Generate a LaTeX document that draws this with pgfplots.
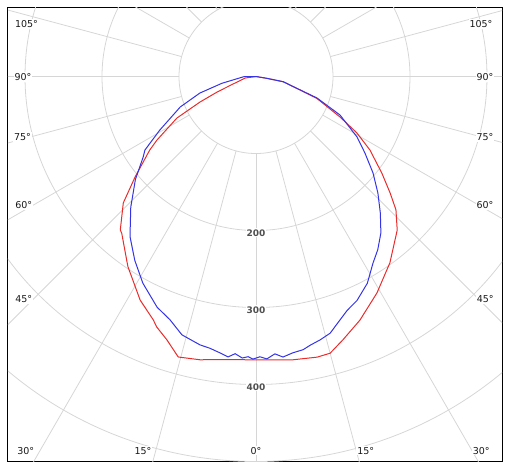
\documentclass[border=0pt]{standalone}
\usepackage{pgfplots}
\pgfplotsset{compat=1.18}
\usepackage{pgfplotstable}
\usepackage{fontspec}
\setmainfont{DejaVu Sans}

\definecolor{gridgray}{RGB}{214,214,214}
\definecolor{curvered}{RGB}{232,44,44}
\definecolor{curveblue}{RGB}{52,52,230}
\definecolor{labeldark}{RGB}{25,25,25}
\definecolor{labelgray}{RGB}{80,80,80}

% g = gamma angle in degrees (left half negative), I = intensity
\pgfplotstableread{
g I
-90 0
-82 14
-72 31
-68.3 54
-65.5 80
-62.3 116
-57.3 153
-55.3 168
-50.3 204
-46.4 238
-41.5 266
-40.6 268
-34.7 294
-33.9 298
-27.4 327
-22.9 343
-21.6 350
-18.7 361
-15.5 378
-11.2 375
-5 369
0 368
7.4 371
12.3 373
15 372
18.3 360
23.1 344
29.2 322
35.7 298
42.6 271
46.4 251
49 231
52.5 206
57.2 176
60.8 150
64.3 121
70.2 84
79.2 36
80.5 14
90 0
}\redcurve

\pgfplotstableread{
g I
-90 0
-89 16
-78.8 45
-73.6 76
-68.1 106
-60.9 143
-56.5 173
-54.5 180
-49.5 206
-43.8 235
-38.8 261
-38.1 265
-33.4 286
-28.7 306
-23.2 326
-19.5 335
-16 349
-11.8 356
-9.6 358
-7.4 362
-5.7 366
-4.3 361
-2.8 366
-1.6 364
-0.6 367
0.8 364
2.2 367
3.9 361
5.5 366
7.6 362
9.8 360
11.4 356
13.7 352
16.1 347
21.3 326
24.3 319
28.3 305
32.1 286
35.1 275
38.6 260
42.3 240
46.3 219
50.5 197
54.9 173
59.1 153
65.4 120
70.6 84
79.2 36
80.5 14
90 0
}\bluecurve

\begin{document}
\begin{tikzpicture}[
  anglab/.style={font=\fontsize{9.5}{9.5}\selectfont, text=labeldark, fill=white, inner sep=1pt},
  radlab/.style={font=\bfseries\fontsize{9}{9}\selectfont, text=labelgray, fill=white, inner sep=1pt},
]
\path[use as bounding box] (-8pt,-6pt) rectangle (501pt,462pt);
\begin{axis}[
  at={(0pt,0pt)}, anchor=south west,
  scale only axis, width=494pt, height=454pt,
  xmin=-322.1, xmax=319.5, ymin=-500.6, ymax=89.0,
  axis line style={black, line width=1pt},
  ticks=none,
  clip=true,
]
% grid circles
\pgfplotsinvokeforeach{1,2,...,7}{
  \draw[gridgray, line width=0.8pt] (axis cs:0,0) circle[radius=#1*77pt];
}
% radial grid lines, starting at the 100 circle
\pgfplotsinvokeforeach{0,15,...,345}{
  \draw[gridgray, line width=0.8pt] (axis cs:0,0) ++(#1:77pt) -- ++(#1:700pt);
}
% angle labels
\node[anglab] at (axis cs:-298,68.2) {105°};
\node[anglab] at (axis cs:-302.6,-0.6) {90°};
\node[anglab] at (axis cs:-303.2,-78.6) {75°};
\node[anglab] at (axis cs:-301.7,-166.9) {60°};
\node[anglab] at (axis cs:-301.7,-289) {45°};
\node[anglab] at (axis cs:-299,-486) {30°};
\node[anglab] at (axis cs:-146.8,-486) {15°};
\node[anglab] at (axis cs:0,-486) {0°};
\node[anglab] at (axis cs:142.6,-486) {15°};
\node[anglab] at (axis cs:292.6,-486) {30°};
\node[anglab] at (axis cs:297.8,-289) {45°};
\node[anglab] at (axis cs:297.4,-166.9) {60°};
\node[anglab] at (axis cs:297.4,-78.6) {75°};
\node[anglab] at (axis cs:297.4,-0.6) {90°};
\node[anglab] at (axis cs:292.2,68.2) {105°};
% radial labels
\node[radlab] at (axis cs:0,-203) {200};
\node[radlab] at (axis cs:0,-303) {300};
\node[radlab] at (axis cs:0,-403) {400};
% curves
\addplot[curvered, line width=1pt] table[x expr={\thisrow{I}*sin(\thisrow{g})}, y expr={-\thisrow{I}*cos(\thisrow{g})}] {\redcurve};
\addplot[curveblue, line width=1pt] table[x expr={\thisrow{I}*sin(\thisrow{g})}, y expr={-\thisrow{I}*cos(\thisrow{g})}] {\bluecurve};
\end{axis}
\end{tikzpicture}
\end{document}
